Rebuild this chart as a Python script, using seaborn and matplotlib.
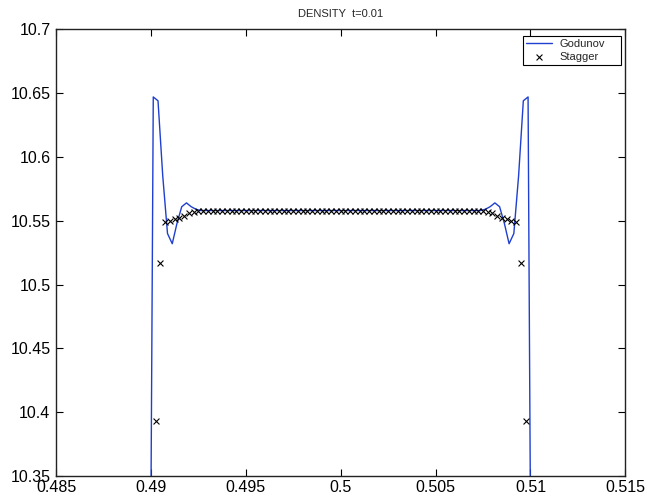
import numpy as np
import pandas as pd
import matplotlib
matplotlib.use("Agg")
import matplotlib.pyplot as plt
import seaborn as sns
from matplotlib.ticker import FixedLocator, FormatStrFormatter

# ---- data ----
godunov_x = [0.489875, 0.490125, 0.490375, 0.490625, 0.490875, 0.491125,
             0.491375, 0.491625, 0.491875, 0.492125, 0.492375, 0.492625,
             0.497500, 0.500000, 0.502500,
             0.507375, 0.507625, 0.507875, 0.508125, 0.508375, 0.508625,
             0.508875, 0.509125, 0.509375, 0.509625, 0.509875, 0.510125]
godunov_y = [10.000, 10.647, 10.644, 10.585, 10.540, 10.532,
             10.548, 10.561, 10.564, 10.561, 10.559, 10.558,
             10.558, 10.558, 10.558,
             10.558, 10.559, 10.561, 10.564, 10.561, 10.548,
             10.532, 10.540, 10.585, 10.644, 10.647, 10.000]

stagger_x = [0.49025, 0.49050, 0.49075, 0.49100, 0.49125, 0.49150, 0.49175,
             0.49200, 0.49225, 0.49250, 0.49275, 0.49300, 0.49325, 0.49350,
             0.49375, 0.49400, 0.49425, 0.49450, 0.49475, 0.49500, 0.49525,
             0.49550, 0.49575, 0.49600, 0.49625, 0.49650, 0.49675, 0.49700,
             0.49725, 0.49750, 0.49775, 0.49800, 0.49825, 0.49850, 0.49875,
             0.49900, 0.49925, 0.49950, 0.49975, 0.50000, 0.50025, 0.50050,
             0.50075, 0.50100, 0.50125, 0.50150, 0.50175, 0.50200, 0.50225,
             0.50250, 0.50275, 0.50300, 0.50325, 0.50350, 0.50375, 0.50400,
             0.50425, 0.50450, 0.50475, 0.50500, 0.50525, 0.50550, 0.50575,
             0.50600, 0.50625, 0.50650, 0.50675, 0.50700, 0.50725, 0.50750,
             0.50775, 0.50800, 0.50825, 0.50850, 0.50875, 0.50900, 0.50925,
             0.50950, 0.50975]
stagger_y = [10.393, 10.517, 10.549, 10.550, 10.551, 10.552, 10.554,
             10.556, 10.557, 10.558, 10.558, 10.558, 10.558, 10.558,
             10.558, 10.558, 10.558, 10.558, 10.558, 10.558, 10.558,
             10.558, 10.558, 10.558, 10.558, 10.558, 10.558, 10.558,
             10.558, 10.558, 10.558, 10.558, 10.558, 10.558, 10.558,
             10.558, 10.558, 10.558, 10.558, 10.558, 10.558, 10.558,
             10.558, 10.558, 10.558, 10.558, 10.558, 10.558, 10.558,
             10.558, 10.558, 10.558, 10.558, 10.558, 10.558, 10.558,
             10.558, 10.558, 10.558, 10.558, 10.558, 10.558, 10.558,
             10.558, 10.558, 10.558, 10.558, 10.558, 10.558, 10.558,
             10.557, 10.556, 10.554, 10.552, 10.551, 10.550, 10.549,
             10.517, 10.393]

x_ticks = [0.485, 0.49, 0.495, 0.5, 0.505, 0.51, 0.515]
y_ticks = [10.35, 10.4, 10.45, 10.5, 10.55, 10.6, 10.65, 10.7]
title_text = "DENSITY  t=0.01"
series_names = ["Godunov", "Stagger"]

# ---- style ----
sns.set_style("ticks")
plt.rcParams["font.family"] = ["Liberation Sans", "DejaVu Sans"]

fig = plt.figure(figsize=(6.46, 4.96), dpi=100)
ax = fig.add_axes([0.0867, 0.0403, 0.8813, 0.9006])

god = pd.DataFrame({"x": godunov_x, "y": godunov_y})
stg = pd.DataFrame({"x": stagger_x, "y": stagger_y})

sns.lineplot(data=god, x="x", y="y", ax=ax, sort=False, estimator=None,
             color="#1f3fd0", linewidth=1.0, label=series_names[0])
sns.scatterplot(data=stg, x="x", y="y", ax=ax, marker="x", s=18,
                color="black", linewidth=0.8, label=series_names[1], zorder=3)

ax.set_xlim(0.485, 0.515)
ax.set_ylim(10.35, 10.7)
ax.xaxis.set_major_locator(FixedLocator(x_ticks))
ax.yaxis.set_major_locator(FixedLocator(y_ticks))
ax.xaxis.set_major_formatter(FormatStrFormatter("%g"))
ax.yaxis.set_major_formatter(FormatStrFormatter("%g"))
ax.set_xlabel("")
ax.set_ylabel("")
ax.tick_params(axis="both", direction="in", length=5, width=0.8,
               top=True, right=True, labelsize=11.5, colors="black")
ax.tick_params(axis="x", pad=3)
ax.tick_params(axis="y", pad=4)
for sp in ax.spines.values():
    sp.set_visible(True)
    sp.set_linewidth(1.0)
    sp.set_color("#222222")

ax.set_title(title_text, fontsize=8, pad=9)

leg = ax.legend(loc="upper left", mode="expand",
                bbox_to_anchor=(523 / 646, 1 - 66 / 496, 98 / 646, 30 / 496),
                bbox_transform=fig.transFigure, fontsize=8, frameon=True,
                fancybox=False, framealpha=1, edgecolor="black",
                handlelength=2.3, borderpad=0.3, labelspacing=0.2,
                handletextpad=0.7, borderaxespad=0)
leg.get_frame().set_linewidth(0.8)

fig.savefig("out.png", dpi=100)
